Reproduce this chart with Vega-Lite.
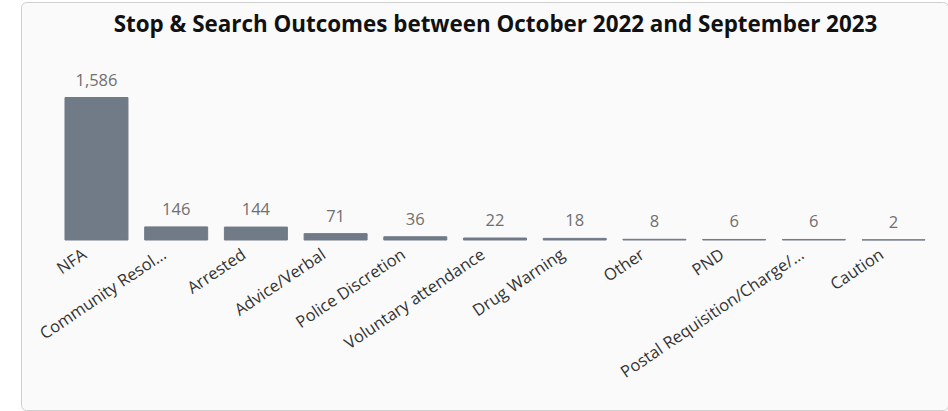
{
  "$schema": "https://vega.github.io/schema/vega-lite/v6.json",
  "width": 927,
  "height": 408,
  "autosize": {"type": "none"},
  "padding": {"left": 21, "top": 2, "right": 0, "bottom": 1},
  "background": "white",
  "config": {
    "view": {"fill": "#fafafa", "stroke": "#cfcfcf", "cornerRadius": 5, "strokeWidth": 1},
    "font": "Open Sans"
  },
  "title": {
    "text": "Stop & Search Outcomes between October 2022 and September 2023",
    "fontSize": 22.4,
    "fontWeight": "bold",
    "color": "#111111",
    "anchor": "middle",
    "frame": "group",
    "offset": -52,
    "baseline": "alphabetic",
    "dx": 11,
    "font": "Open Sans"
  },
  "data": {
    "values": [
      {"outcome": "NFA", "count": 1586},
      {"outcome": "Community Resol…", "count": 146},
      {"outcome": "Arrested", "count": 144},
      {"outcome": "Advice/Verbal", "count": 71},
      {"outcome": "Police Discretion", "count": 36},
      {"outcome": "Voluntary attendance", "count": 22},
      {"outcome": "Drug Warning", "count": 18},
      {"outcome": "Other", "count": 8},
      {"outcome": "PND", "count": 6},
      {"outcome": "Postal Requisition/Charge/…", "count": 6},
      {"outcome": "Caution", "count": 2}
    ]
  },
  "encoding": {
    "x": {
      "field": "outcome",
      "type": "nominal",
      "sort": null,
      "scale": {"paddingInner": 0.21, "paddingOuter": 0.42, "align": 0.657},
      "axis": {
        "offset": -170,
        "labelAngle": -34,
        "domain": false,
        "ticks": false,
        "labelPadding": 6,
        "labelOffset": -16,
        "labelFontSize": 16.5,
        "labelColor": "#333333",
        "labelFont": "Open Sans",
        "labelOverlap": false,
        "labelLimit": 0,
        "title": null
      }
    },
    "y": {
      "field": "count",
      "type": "quantitative",
      "scale": {"domain": [-1892, 2649], "nice": false, "zero": false},
      "axis": null
    }
  },
  "layer": [
    {"mark": {"type": "bar", "color": "#717a87", "stroke": "#717a87", "strokeWidth": 1}},
    {
      "mark": {"type": "text", "baseline": "alphabetic", "dy": -12, "fontSize": 16.5, "color": "#707070", "font": "Open Sans"},
      "encoding": {"text": {"field": "count", "type": "quantitative", "format": ","}}
    }
  ]
}
